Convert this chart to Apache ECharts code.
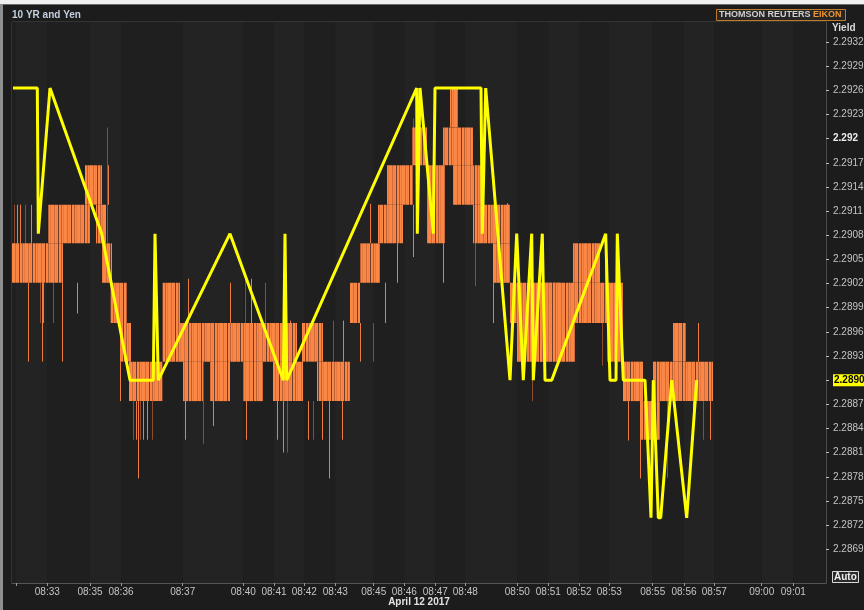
<!DOCTYPE html>
<html>
<head>
<meta charset="utf-8">
<script src="https://cdn.jsdelivr.net/npm/echarts@6/dist/echarts.min.js"></script>
<style>
html, body { margin: 0; padding: 0; background: #f0f0f0; }
#chart { width: 864px; height: 610px; }
</style>
</head>
<body>
<div id="chart"></div>
<script>
// x = tick index along the intraday axis, y = yield
const xTickPos = [4, 35.3, 78, 109, 170.7, 231.3, 262, 292.3, 323.3, 361.7, 392.3, 423.3, 453.3,
    505.3, 536.3, 567, 597.3, 640.7, 672, 702.3, 749.7, 781.3];
const xTickLabels = ['', '08:33', '08:35', '08:36', '08:37', '08:40', '08:41', '08:42', '08:43', '08:45',
    '08:46', '08:47', '08:48', '08:50', '08:51', '08:52', '08:53', '08:55', '08:56', '08:57', '09:00', '09:01'];
const yTicks = [2.2932, 2.2929, 2.2926, 2.2923, 2.2920, 2.2917, 2.2914, 2.2911, 2.2908, 2.2905, 2.2902,
    2.2899, 2.2896, 2.2893, 2.2890, 2.2887, 2.2884, 2.2881, 2.2878, 2.2875, 2.2872, 2.2869];
const lastYield = 2.2890;

// 10 YR yield (yellow)
const yieldLine = [
    [1, 2.29263], [25.3, 2.29263], [26.3, 2.29082], [38, 2.29263], [89.7, 2.29082], [118, 2.2890],
    [141.3, 2.2890], [143, 2.29082], [146.3, 2.2890], [218, 2.29082], [271.3, 2.2890], [273, 2.29082],
    [274.7, 2.2890], [404.7, 2.29263], [405.3, 2.29082], [408, 2.29263], [421.3, 2.29082], [423, 2.29263],
    [469, 2.29263], [470.3, 2.29082], [473.7, 2.29263], [498, 2.2890], [504.7, 2.29082], [511.3, 2.2890],
    [519.7, 2.29082], [521.3, 2.2890], [530.3, 2.29082], [533, 2.2890], [539.7, 2.2890], [593.7, 2.29082],
    [598, 2.2890], [604, 2.2890], [605.3, 2.29082], [611.3, 2.2890], [633, 2.2890], [639, 2.28729],
    [641.3, 2.2890], [646.3, 2.28729], [648.7, 2.28729], [659.7, 2.2890], [674.7, 2.28729], [684.7, 2.2890]
];

// Yen ticks, dense trading ranges [xFrom, xTo, high, low]
const yenRanges = [
    [0, 51, 2.29070, 2.29021], [36, 78, 2.29118, 2.29070], [73, 90, 2.29167, 2.29118],
    [84, 94, 2.29118, 2.29070], [90, 100, 2.29070, 2.29021], [98, 115, 2.29021, 2.28971],
    [108, 119, 2.28971, 2.28923], [117, 151, 2.28923, 2.28874], [150, 168, 2.29021, 2.28923],
    [168, 285, 2.28971, 2.28923], [171, 191, 2.28923, 2.28874], [198, 218, 2.28923, 2.28874],
    [231, 251, 2.28923, 2.28874], [261, 291, 2.28923, 2.28874], [290, 311, 2.28971, 2.28923],
    [305, 338, 2.28923, 2.28874], [338, 348, 2.29021, 2.28971], [348, 368, 2.29070, 2.29021],
    [366, 391, 2.29118, 2.29070], [375, 401, 2.29167, 2.29118], [400, 415, 2.29214, 2.29167],
    [415, 433, 2.29167, 2.29070], [431, 461, 2.29214, 2.29167], [438, 446, 2.29262, 2.29214],
    [441, 471, 2.29167, 2.29118], [461, 498, 2.29118, 2.29070], [481, 498, 2.29070, 2.29021],
    [498, 548, 2.29021, 2.28971], [505, 530, 2.28971, 2.28923], [528, 595, 2.29021, 2.28971],
    [528, 563, 2.28971, 2.28923], [561, 588, 2.29070, 2.29021], [595, 611, 2.29021, 2.28923],
    [611, 631, 2.28923, 2.28874], [628, 648, 2.28874, 2.28826], [641, 660, 2.28923, 2.28874],
    [661, 674, 2.28971, 2.28923], [660, 701, 2.28923, 2.28874]
];

// Yen single-tick excursions [x, high, low]
const yenSpikes = [
    [2, 2.29118, 2.29070], [5, 2.29118, 2.29070], [8, 2.29118, 2.29070], [13, 2.29118, 2.29070],
    [19, 2.29118, 2.29070], [16, 2.29021, 2.28923], [28, 2.29021, 2.28971], [30, 2.29021, 2.28923],
    [31, 2.29021, 2.28971], [41, 2.29021, 2.28971], [50, 2.29021, 2.28923], [65, 2.29021, 2.28983],
    [95, 2.29214, 2.29070], [96, 2.29167, 2.29118], [108, 2.28923, 2.28874], [121, 2.28874, 2.28826],
    [124, 2.28874, 2.28826], [126, 2.28874, 2.28778], [128, 2.28874, 2.28826], [131, 2.28874, 2.28826],
    [135, 2.28874, 2.28826], [140, 2.28874, 2.28826], [176, 2.29026, 2.28971], [173, 2.28923, 2.28826],
    [191, 2.28923, 2.28821], [201, 2.28923, 2.28843], [218, 2.29021, 2.28971], [233, 2.29026, 2.28971],
    [234, 2.28874, 2.28826], [239, 2.29026, 2.28971], [253, 2.29021, 2.28971], [265, 2.28874, 2.28826],
    [271, 2.28874, 2.28810], [275, 2.28874, 2.28810], [278, 2.28974, 2.28923], [296, 2.28874, 2.28826],
    [301, 2.28874, 2.28826], [310, 2.28874, 2.28826], [317, 2.28874, 2.28778], [321, 2.28974, 2.28923],
    [330, 2.28874, 2.28826], [331, 2.28974, 2.28923], [338, 2.29003, 2.28971], [348, 2.28971, 2.28923],
    [358, 2.29119, 2.29070], [361, 2.28971, 2.28923], [373, 2.29021, 2.28971], [385, 2.29070, 2.29021],
    [401, 2.29225, 2.29167], [401, 2.29118, 2.29053], [431, 2.29070, 2.29021], [463, 2.29070, 2.29017],
    [481, 2.29021, 2.28971], [495, 2.29120, 2.29070], [520, 2.28923, 2.28874], [583, 2.29070, 2.29021],
    [593, 2.29070, 2.29021], [590, 2.28971, 2.28918], [616, 2.28874, 2.28825], [628, 2.28874, 2.28778],
    [655, 2.28874, 2.28779], [686, 2.28971, 2.28923], [681, 2.28874, 2.28826], [691, 2.28874, 2.28826],
    [698, 2.28874, 2.28826]
];

// streaky texture for the dense tick ranges
const tex = document.createElement('canvas');
tex.width = 13; tex.height = 4;
const tctx = tex.getContext('2d');
['#fb8746', '#fb8746', '#d06c3a', '#fb8746', '#f47f41', '#fb8746', '#6e3e2a', '#fb8746',
    '#fb8746', '#b85f34', '#fb8746', '#e8783e', '#fb8746']
    .forEach(function (c, i) { tctx.fillStyle = c; tctx.fillRect(i, 0, 1, 4); });

const bands = [];
const edges = [0].concat(xTickPos, [814]);
for (let i = 0; i < edges.length - 1; i++) bands.push([edges[i], edges[i + 1], i]);

const font = 'Liberation Sans, Arial, sans-serif';
const chart = echarts.init(document.getElementById('chart'));
chart.setOption({
    animation: false,
    backgroundColor: '#1c1c1c',
    title: {
        text: '10 YR and Yen', left: 12, top: 10, padding: 0,
        textStyle: { fontSize: 10, fontWeight: 'bold', color: '#c3d0df', fontFamily: font }
    },
    grid: {
        left: 12, right: 38, top: 22, bottom: 27, outerBoundsMode: 'none', containLabel: false,
        show: true, borderColor: '#4a4a4a', backgroundColor: '#202020'
    },
    xAxis: {
        type: 'value', min: 0, max: 814,
        axisLine: { onZero: false, lineStyle: { color: '#555' } },
        splitLine: { show: false },
        axisTick: { customValues: xTickPos, length: 3, lineStyle: { color: '#999' } },
        axisLabel: {
            customValues: xTickPos, margin: 4, color: '#c4c4c4', fontSize: 10, fontFamily: font,
            formatter: function (v) {
                const i = xTickPos.findIndex(function (p) { return Math.abs(p - v) < 0.01; });
                return i >= 0 ? xTickLabels[i] : '';
            }
        },
        name: 'April 12 2017', nameLocation: 'middle', nameGap: 14, nameMoveOverlap: false,
        nameTextStyle: { color: '#e2e2e2', fontWeight: 'bold', fontSize: 10, fontFamily: font }
    },
    yAxis: {
        type: 'value', position: 'right', min: 2.28648, max: 2.29345, scale: true,
        axisLine: { show: true, onZero: false, lineStyle: { color: '#4a4a4a' } },
        splitLine: { show: false },
        axisTick: { show: true, customValues: yTicks, length: 3, lineStyle: { color: '#bbb' } },
        axisLabel: {
            customValues: yTicks, margin: 7, fontFamily: font,
            formatter: function (v) {
                if (Math.abs(v - lastYield) < 1e-7) return '{hl|' + v.toFixed(4) + '}';
                if (Math.abs(v - 2.292) < 1e-7) return '{b|2.292}';
                return '{n|' + v.toFixed(4) + '}';
            },
            rich: {
                n: { color: '#c4c4c4', fontSize: 10, fontFamily: font },
                b: { color: '#ececec', fontSize: 10, fontWeight: 'bold', fontFamily: font },
                hl: { color: '#000', backgroundColor: '#ffff00', fontSize: 10, fontWeight: 'bold', fontFamily: font, padding: [1, 1, 1, 1] }
            }
        }
    },
    graphic: [
        { type: 'rect', left: 0, top: 0, shape: { width: 864, height: 4 }, style: { fill: '#f0f0f0' } },
        { type: 'rect', left: 0, top: 4, shape: { width: 3, height: 606 }, style: { fill: '#8e8e8e' } },
        { type: 'rect', left: 3, top: 4, shape: { width: 861, height: 1 }, style: { fill: '#6a6a6a' } },
        {
            type: 'rect', left: 716, top: 9, shape: { width: 129, height: 11 },
            style: { fill: '#262626', stroke: '#c07a28', lineWidth: 1 }
        },
        {
            type: 'text', left: 719, top: 10,
            style: {
                text: '{a|THOMSON REUTERS }{e|EIKON}',
                rich: {
                    a: { fill: '#cfcfcf', fontSize: 9, fontWeight: 'bold', fontFamily: font },
                    e: { fill: '#f0962c', fontSize: 9, fontWeight: 'bold', fontFamily: font }
                }
            }
        },
        {
            type: 'text', left: 832, top: 23,
            style: { text: 'Yield', fill: '#dcdcdc', fontSize: 10, fontWeight: 'bold', fontFamily: font }
        },
        {
            type: 'rect', left: 832, top: 571, shape: { width: 26, height: 11 },
            style: { fill: '#2a2a2a', stroke: '#d8d8d8', lineWidth: 1 }
        },
        {
            type: 'text', left: 834, top: 572,
            style: { text: 'Auto', fill: '#f0f0f0', fontSize: 10, fontWeight: 'bold', fontFamily: font }
        }
    ],
    series: [
        {
            type: 'custom', silent: true, z: 0, clip: true,
            data: bands,
            renderItem: function (params, api) {
                const a = api.coord([api.value(0), 0]);
                const b = api.coord([api.value(1), 0]);
                const cs = params.coordSys;
                return {
                    type: 'rect',
                    shape: { x: a[0], y: cs.y, width: b[0] - a[0], height: cs.height },
                    style: { fill: api.value(2) % 2 ? '#232323' : '#1f1f1f' }
                };
            }
        },
        {
            type: 'custom', name: 'Yen', silent: true, z: 2, clip: true,
            data: yenSpikes,
            encode: { x: 0, y: [1, 2] },
            renderItem: function (params, api) {
                const a = api.coord([api.value(0), api.value(1)]);
                const b = api.coord([api.value(0), api.value(2)]);
                const x = Math.round(a[0]) + 0.5;
                return {
                    type: 'line',
                    shape: { x1: x, y1: a[1], x2: x, y2: b[1] },
                    style: { stroke: params.dataIndex % 3 === 0 ? '#8f4c2c' : '#ee7c3e', lineWidth: 1 }
                };
            }
        },
        {
            type: 'custom', name: 'Yen', silent: true, z: 3, clip: true,
            data: yenRanges,
            encode: { x: [0, 1], y: [2, 3] },
            renderItem: function (params, api) {
                const p0 = api.coord([api.value(0), api.value(2)]);
                const p1 = api.coord([api.value(1), api.value(3)]);
                return {
                    type: 'rect',
                    shape: { x: p0[0], y: p0[1], width: p1[0] - p0[0], height: p1[1] - p0[1] },
                    style: { fill: { image: tex, repeat: 'repeat' } }
                };
            }
        },
        {
            type: 'line', name: '10 YR', z: 5,
            data: yieldLine,
            showSymbol: false, symbol: 'none',
            lineStyle: { color: '#ffff00', width: 3 }
        }
    ]
});
</script>
</body>
</html>
